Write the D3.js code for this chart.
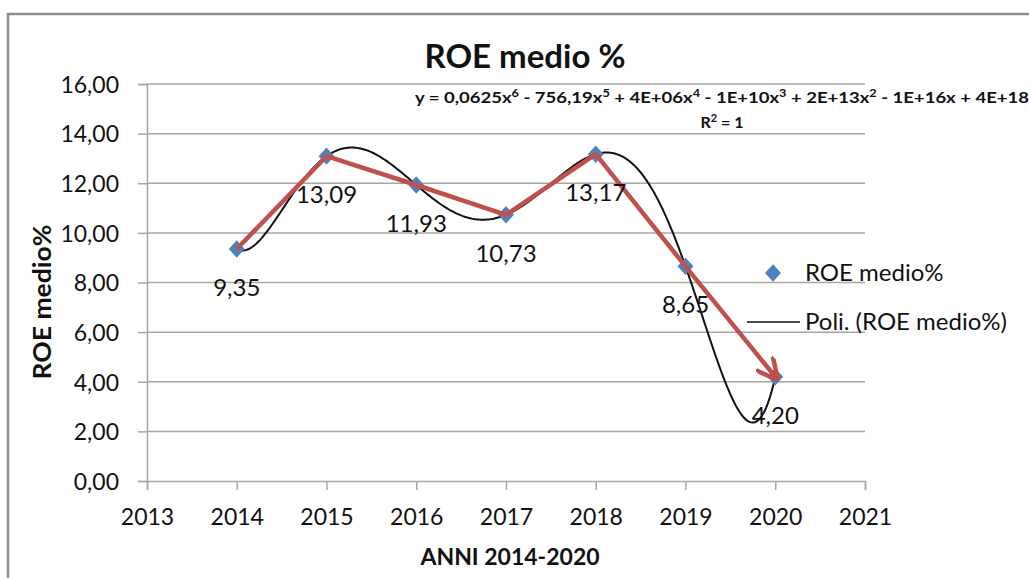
<!DOCTYPE html>
<html>
<head>
<meta charset="utf-8">
<script src="https://cdn.jsdelivr.net/npm/d3@7"></script>
<style>
  body { margin: 0; background: #fff; }
  svg { font-family: Lato, "Open Sans", sans-serif; }
</style>
</head>
<body>
<svg id="grafico" width="1029" height="578"></svg>
<script>
// dati
const anni = [2014, 2015, 2016, 2017, 2018, 2019, 2020];
const roe = [9.35, 13.09, 11.93, 10.73, 13.17, 8.65, 4.20];
const tickAnni = [2013, 2014, 2015, 2016, 2017, 2018, 2019, 2020, 2021];
const tickRoe = [0, 2, 4, 6, 8, 10, 12, 14, 16];

const svg = d3.select('#grafico');
const margem = { esquerda: 147, direita: 164, superior: 84, inferior: 97 };
const largura = 1029, altura = 578;

const x = d3.scaleLinear().domain([2013, 2021]).range([margem.esquerda, largura - margem.direita]);
const y = d3.scaleLinear().domain([0, 16]).range([altura - margem.inferior, margem.superior]);
const fmt = v => d3.format('.2f')(v).replace('.', ',');

// cornice
svg.append('path')
  .attr('d', 'M8,578 L8,14 L1029,14')
  .attr('fill', 'none').attr('stroke', '#8c8c8c').attr('stroke-width', 2.5);

// griglia
svg.append('g').selectAll('line')
  .data(tickRoe.filter(d => d > 0))
  .enter().append('line')
  .attr('x1', x(2013)).attr('x2', x(2021))
  .attr('y1', d => y(d)).attr('y2', d => y(d))
  .attr('stroke', '#a6a6a6').attr('stroke-width', 1.5);

// assi
const assey = svg.append('g').attr('transform', `translate(${x(2013)},0)`)
  .call(d3.axisLeft(y).tickValues(tickRoe).tickFormat(fmt).tickSize(9).tickPadding(19));
const assex = svg.append('g').attr('transform', `translate(0,${y(0)})`)
  .call(d3.axisBottom(x).tickValues(tickAnni).tickFormat(d3.format('d')).tickSize(9).tickPadding(19));
[assey, assex].forEach(a => {
  a.select('.domain').attr('stroke', '#a6a6a6').attr('stroke-width', 1.5);
  a.selectAll('.tick line').attr('stroke', '#a6a6a6').attr('stroke-width', 1.5);
  a.selectAll('text').attr('font-size', 23).attr('fill', '#111').attr('font-family', 'Lato, sans-serif');
});
assey.selectAll('text').attr('dy', '0.36em');

// linea di tendenza polinomiale (grado 6, passa per tutti i punti)
function poli(t) {
  let s = 0;
  for (let i = 0; i < anni.length; i++) {
    let p = roe[i];
    for (let j = 0; j < anni.length; j++) {
      if (j !== i) p *= (t - anni[j]) / (anni[i] - anni[j]);
    }
    s += p;
  }
  return s;
}
const campioni = d3.range(2014, 2020.001, 0.02);
svg.append('path')
  .datum(campioni)
  .attr('d', d3.line().x(d => x(d)).y(d => y(poli(d))))
  .attr('fill', 'none').attr('stroke', '#111').attr('stroke-width', 2);

// punti
const simbolo = d3.symbol().type(d3.symbolSquare).size(150);
svg.append('g').selectAll('path')
  .data(anni)
  .enter().append('path')
  .attr('d', simbolo)
  .attr('transform', (d, i) => `translate(${x(d)},${y(roe[i])}) scale(0.92,1) rotate(45)`)
  .attr('fill', '#4f81bd');

// freccia rossa
svg.append('defs').append('marker')
  .attr('id', 'freccia').attr('viewBox', '0 0 10 10')
  .attr('refX', 8).attr('refY', 5)
  .attr('markerWidth', 5).attr('markerHeight', 5)
  .attr('orient', 'auto')
  .append('path').attr('d', 'M0,0 L10,5 L0,10')
  .attr('fill', 'none').attr('stroke', '#c0504d').attr('stroke-width', 2);
svg.append('path')
  .datum(anni.map((d, i) => [d, roe[i]]))
  .attr('d', d3.line().x(d => x(d[0])).y(d => y(d[1])))
  .attr('fill', 'none').attr('stroke', '#c0504d').attr('stroke-width', 4.5)
  .attr('stroke-linejoin', 'round')
  .attr('marker-end', 'url(#freccia)');

// etichette dati
svg.append('g').selectAll('text')
  .data(anni)
  .enter().append('text')
  .attr('x', d => x(d))
  .attr('y', (d, i) => y(roe[i]) + 47)
  .attr('text-anchor', 'middle')
  .attr('font-size', 24).attr('fill', '#111')
  .text((d, i) => fmt(roe[i]));

// titolo
svg.append('text')
  .attr('x', 525).attr('y', 68)
  .attr('text-anchor', 'middle')
  .attr('font-size', 33).attr('font-weight', 'bold').attr('fill', '#111')
  .text('ROE medio %');

// equazione
const eq = svg.append('text')
  .attr('x', 722).attr('y', 103)
  .attr('text-anchor', 'middle')
  .attr('font-size', 16).attr('font-weight', 'bold').attr('fill', '#111')
  .attr('textLength', 614).attr('lengthAdjust', 'spacingAndGlyphs');
const pezzi = [['y = 0,0625x', '6'], [' - 756,19x', '5'], [' + 4E+06x', '4'], [' - 1E+10x', '3'], [' + 2E+13x', '2'], [' - 1E+16x + 4E+18', null]];
pezzi.forEach((p, k) => {
  eq.append('tspan').attr('dy', k > 0 ? 6 : 0).text(p[0]);
  if (p[1]) eq.append('tspan').attr('dy', -6).attr('font-size', 11).text(p[1]);
});
const r2 = svg.append('text')
  .attr('x', 722).attr('y', 128)
  .attr('text-anchor', 'middle')
  .attr('font-size', 16).attr('font-weight', 'bold').attr('fill', '#111');
r2.append('tspan').text('R');
r2.append('tspan').attr('dy', -6).attr('font-size', 11).text('2');
r2.append('tspan').attr('dy', 6).text(' = 1');

// titoli assi
svg.append('text')
  .attr('transform', `translate(51,302) rotate(-90)`)
  .attr('text-anchor', 'middle')
  .attr('font-size', 24).attr('font-weight', 'bold').attr('fill', '#111')
  .attr('textLength', 155).attr('lengthAdjust', 'spacingAndGlyphs')
  .text('ROE medio%');
svg.append('text')
  .attr('x', 510).attr('y', 565)
  .attr('text-anchor', 'middle')
  .attr('font-size', 23).attr('font-weight', 'bold').attr('fill', '#111')
  .text('ANNI 2014-2020');

// legenda
const legenda = svg.append('g');
legenda.append('path').attr('d', simbolo)
  .attr('transform', 'translate(773,273) scale(0.92,1) rotate(45)').attr('fill', '#4f81bd');
legenda.append('text').attr('x', 805).attr('y', 281)
  .attr('font-size', 24).attr('fill', '#111').text('ROE medio%');
legenda.append('line').attr('x1', 747).attr('x2', 800).attr('y1', 322).attr('y2', 322)
  .attr('stroke', '#111').attr('stroke-width', 1.5);
legenda.append('text').attr('x', 805).attr('y', 330)
  .attr('font-size', 24).attr('fill', '#111').text('Poli. (ROE medio%)');
</script>
</body>
</html>
